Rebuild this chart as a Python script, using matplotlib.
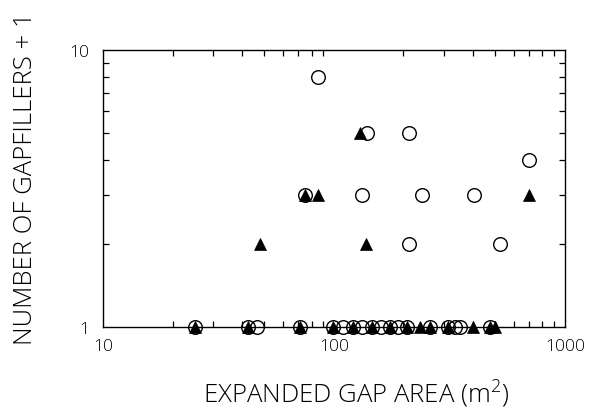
import numpy as np
import matplotlib.pyplot as plt
from matplotlib.ticker import LogLocator, NullFormatter, FixedLocator, FixedFormatter

plt.rcParams["font.family"] = ["Open Sans", "DejaVu Sans"]
plt.rcParams["mathtext.fontset"] = "custom"
plt.rcParams["mathtext.rm"] = "Open Sans:light"

# open circles: gap area (m2) and number of gapfillers + 1
CIRC_AREA = [25, 42.5, 46.5, 71, 99, 109, 121, 132, 146, 160, 175, 189, 207,
             260, 312, 334, 351, 473,
             75, 85, 139, 211, 698, 132, 240, 403, 211, 524]
CIRC_N    = [1, 1, 1, 1, 1, 1, 1, 1, 1, 1, 1, 1, 1,
             1, 1, 1, 1, 1,
             3, 8, 5, 5, 4, 3, 3, 3, 2, 2]

# filled triangles
TRI_AREA = [25, 42.5, 71, 99, 121, 146, 175, 207, 235, 260, 312, 400, 473, 498,
            48, 75, 85, 130, 138, 698]
TRI_N    = [1, 1, 1, 1, 1, 1, 1, 1, 1, 1, 1, 1, 1, 1,
            2, 3, 3, 5, 2, 3]

X_TICKS = [10, 100, 1000]
Y_TICKS = [1, 10]

fig = plt.figure(figsize=(5.92, 4.14), dpi=100, facecolor="white")
ax = fig.add_axes([0.174, 0.208, 0.780, 0.669])

ax.plot(CIRC_AREA, CIRC_N, linestyle="none", marker="o", ms=9.8,
        mfc="none", mec="black", mew=1.0, clip_on=False, zorder=3)
ax.plot(TRI_AREA, TRI_N, linestyle="none", marker="^", ms=8.3,
        mfc="black", mec="black", mew=0.5, clip_on=False, zorder=4)

ax.set_xscale("log")
ax.set_yscale("log")
ax.set_xlim(10, 1000)
ax.set_ylim(1, 10)

ax.xaxis.set_major_locator(FixedLocator(X_TICKS))
ax.xaxis.set_major_formatter(FixedFormatter([str(v) for v in X_TICKS]))
ax.xaxis.set_minor_locator(LogLocator(base=10, subs=np.arange(2, 10)))
ax.xaxis.set_minor_formatter(NullFormatter())
ax.yaxis.set_major_locator(FixedLocator(Y_TICKS))
ax.yaxis.set_major_formatter(FixedFormatter([str(v) for v in Y_TICKS]))
ax.yaxis.set_minor_locator(LogLocator(base=10, subs=np.arange(2, 10)))
ax.yaxis.set_minor_formatter(NullFormatter())

ax.tick_params(which="both", direction="in", top=True, right=True,
               width=0.9, labelsize=12.5)
ax.tick_params(which="major", length=0)
ax.tick_params(axis="x", which="major", pad=8)
ax.tick_params(axis="y", which="major", pad=10)
ax.tick_params(which="minor", length=4)
for lab in ax.get_xticklabels() + ax.get_yticklabels():
    lab.set_fontweight("light")
for s in ax.spines.values():
    s.set_linewidth(1.0)

ax.set_xlabel("EXPANDED GAP AREA (m$^2$)", fontsize=18.5, fontweight="light")
ax.xaxis.label.set_va("center")
ax.xaxis.set_label_coords(0.548, -0.235)
ax.set_ylabel("NUMBER OF GAPFILLERS + 1", fontsize=18.5, fontweight="light")
ax.yaxis.label.set_va("center")
ax.yaxis.set_label_coords(-0.167, 0.54)

fig.savefig("out.png", dpi=100, facecolor="white")
